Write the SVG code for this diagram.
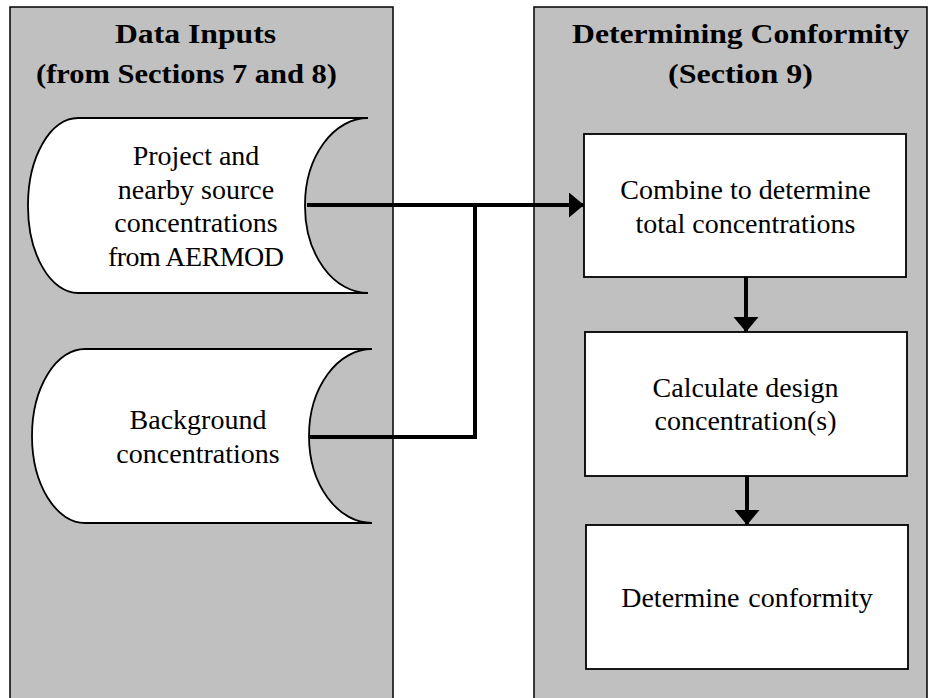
<svg xmlns="http://www.w3.org/2000/svg" width="936" height="698" viewBox="0 0 936 698">
  <defs>
    <style>
      .panel { fill: #c0c0c0; stroke: #000; stroke-width: 1.5; }
      .node { fill: #fff; stroke: #000; stroke-width: 1.8; }
      .head { font-family: "Liberation Serif", "Times New Roman", serif; font-weight: bold; font-size: 27px; fill: #000; }
      .lbl { font-family: "Liberation Serif", "Times New Roman", serif; font-size: 28px; fill: #000; text-anchor: middle; }
      .conn { fill: none; stroke: #000; stroke-width: 4; }
    </style>
    <marker id="arrow" markerUnits="userSpaceOnUse" markerWidth="16" markerHeight="26" refX="15" refY="12.5" orient="auto">
      <path d="M0,0 L15,12.5 L0,25 Z" fill="#000"/>
    </marker>
  </defs>
  <rect width="936" height="698" fill="#fff"/>

  <g id="panel-inputs">
    <rect class="panel" x="10" y="7" width="383" height="700"/>
    <text class="head" x="115" y="43" textLength="161" lengthAdjust="spacingAndGlyphs">Data Inputs</text>
    <text class="head" x="36" y="83" textLength="301" lengthAdjust="spacingAndGlyphs">(from Sections 7 and 8)</text>
  </g>
  <g id="panel-conformity">
    <rect class="panel" x="534" y="7" width="393" height="700"/>
    <text class="head" x="572" y="43" textLength="337" lengthAdjust="spacingAndGlyphs">Determining Conformity</text>
    <text class="head" x="668" y="83" textLength="145" lengthAdjust="spacingAndGlyphs">(Section 9)</text>
  </g>

  <g id="node-project">
    <path class="node" d="M78,118 L368,118 A63,87 0 0 0 305,205 A63,87 0 0 0 368,293 L78,293 A50,87 0 0 1 28,205 A50,87 0 0 1 78,118 Z"/>
    <text class="lbl" x="196" y="165">Project and</text>
    <text class="lbl" x="196" y="198.5">nearby source</text>
    <text class="lbl" x="196" y="232">concentrations</text>
    <text class="lbl" x="196" y="265.5" textLength="176">from AERMOD</text>
  </g>

  <g id="node-background">
    <path class="node" d="M85,349 L372,349 A63,87 0 0 0 309,436 A63,87 0 0 0 372,523 L85,523 A53,87 0 0 1 32,436 A53,87 0 0 1 85,349 Z"/>
    <text class="lbl" x="198" y="429">Background</text>
    <text class="lbl" x="198" y="463">concentrations</text>
  </g>

  <g id="node-combine">
    <rect class="node" x="584" y="134" width="322" height="143"/>
    <text class="lbl" x="745.5" y="199">Combine to determine</text>
    <text class="lbl" x="745.5" y="233">total concentrations</text>
  </g>

  <g id="node-calculate">
    <rect class="node" x="585" y="332" width="322" height="144"/>
    <text class="lbl" x="745.5" y="397">Calculate design</text>
    <text class="lbl" x="745.5" y="430">concentration(s)</text>
  </g>

  <g id="node-determine">
    <rect class="node" x="586" y="525" width="322" height="144"/>
    <text class="lbl" x="747" y="607" word-spacing="2">Determine conformity</text>
  </g>

  <g id="connectors">
    <path class="conn" d="M307,205 L584,205" marker-end="url(#arrow)"/>
    <path class="conn" d="M309,437 L475,437 L475,205"/>
    <path class="conn" d="M746,277 L746,332" marker-end="url(#arrow)"/>
    <path class="conn" d="M747,476 L747,525" marker-end="url(#arrow)"/>
  </g>
</svg>
